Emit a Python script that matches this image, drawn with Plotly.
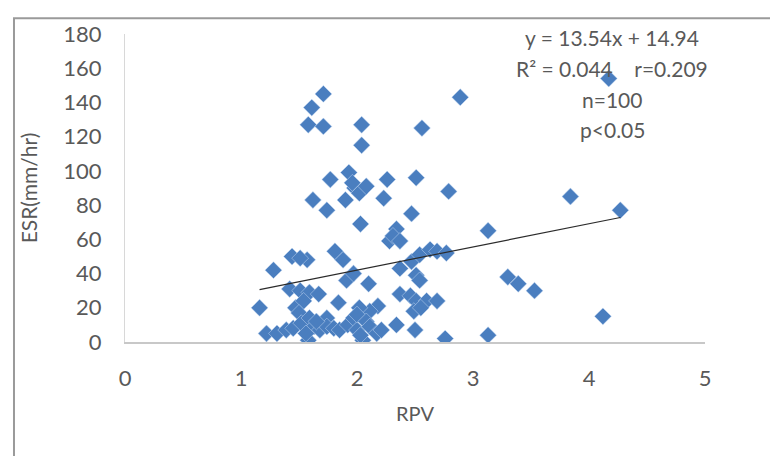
import plotly.graph_objects as go

# RPV (x) and ESR (y) values
rpv = [1.71, 1.61, 1.58, 1.71, 2.04, 2.04, 2.89, 2.56, 4.17, 3.84, 4.27,
       1.77, 1.93, 1.98, 2.02, 2.08, 1.90, 1.62, 1.74, 2.26, 2.51, 2.23, 2.79, 1.96,
       2.03, 2.47, 2.34, 3.13, 2.28, 2.31, 2.37,
       1.28, 1.44, 1.57, 1.51, 1.81, 1.88, 1.91, 1.97, 2.10, 2.37, 2.47, 2.54, 2.63,
       2.69, 2.77, 2.51, 2.54, 3.30, 3.39, 3.53,
       1.16, 1.42, 1.51, 1.59, 1.67, 1.47, 1.54, 1.84, 2.18, 2.37, 2.46, 2.51, 2.60,
       2.69, 2.49, 2.55, 4.12, 2.11, 2.02, 1.50,
       1.22, 1.31, 1.39, 1.45, 1.52, 1.59, 1.58, 1.63, 1.68, 1.74, 1.74, 1.80, 1.85,
       1.92, 1.97, 2.00, 2.00, 2.05, 2.08, 2.11, 2.17, 2.21, 2.34, 2.50, 2.76, 3.13,
       1.56, 2.03, 1.65]
esr = [145, 137, 127, 126, 127, 115, 143, 125, 154, 85, 77,
       95, 99, 90, 87, 91, 83, 83, 77, 95, 96, 84, 88, 93,
       69, 75, 66, 65, 59, 62, 59,
       42, 50, 48, 49, 53, 48, 36, 40, 34, 43, 47, 51, 54,
       53, 52, 39, 36, 38, 34, 30,
       20, 31, 30, 29, 28, 20, 24, 23, 21, 28, 27, 24, 24,
       24, 18, 20, 15, 18, 20, 17,
       5, 5, 7, 8, 11, 14, 1, 9, 7, 14, 9, 8, 7,
       10, 14, 7, 16, 1, 12, 9, 5, 7, 10, 7, 2, 4,
       5, 4, 12]

slope = 13.54
intercept = 14.94
x_ticks = [0, 1, 2, 3, 4, 5]
y_ticks = [0, 20, 40, 60, 80, 100, 120, 140, 160, 180]
stats_lines = ["y = 13.54x + 14.94",
               "R\u00b2 = 0.044\u00a0\u00a0\u00a0\u00a0r=0.209",
               "n=100",
               "p<0.05"]

FONT = "Lato, 'Open Sans', sans-serif"
TXT = "#595959"

fig = go.Figure()
fig.add_trace(go.Scatter(
    x=rpv, y=esr, mode="markers",
    marker=dict(symbol="diamond", size=13, color="#4A7EBF",
                line=dict(width=0.6, color="rgba(200,220,245,0.8)")),
    showlegend=False, hoverinfo="x+y"))

xmin, xmax = min(rpv), max(rpv)
fig.add_trace(go.Scatter(
    x=[xmin, xmax], y=[slope * xmin + intercept, slope * xmax + intercept],
    mode="lines", line=dict(color="#2b2b2b", width=1.2),
    showlegend=False, hoverinfo="skip"))

ann_y = [178, 160, 142, 124]
for txt, yy in zip(stats_lines, ann_y):
    fig.add_annotation(x=4.2, y=yy, xref="x", yref="y", text=txt,
                       showarrow=False, xanchor="center", yanchor="middle",
                       font=dict(family=FONT, size=21, color=TXT))

# outer chart border
fig.add_shape(type="rect", xref="paper", yref="paper",
              x0=-0.1914, x1=1.2, y0=-0.5, y1=1.051,
              line=dict(color="#9a9a9a", width=2), fillcolor="rgba(0,0,0,0)",
              layer="below")

# page body has an 8px default margin, so the figure is 8px smaller
fig.update_layout(
    width=770, height=448,
    margin=dict(l=117, r=73, t=20, b=114),
    paper_bgcolor="white", plot_bgcolor="white",
    font=dict(family=FONT, color=TXT),
    xaxis=dict(range=[0, 5], tickvals=x_ticks, showgrid=False, zeroline=False,
               showline=True, linecolor="#c8c8c8", linewidth=2,
               ticks="", ticklabelstandoff=16,
               tickfont=dict(size=22, color=TXT, family=FONT),
               title=dict(text="RPV", font=dict(size=20, color=TXT, family=FONT),
                          standoff=17)),
    yaxis=dict(range=[0, 180], tickvals=y_ticks, showgrid=False, zeroline=False,
               showline=True, linecolor="#d8d8d8", linewidth=1,
               ticks="", ticklabelstandoff=18,
               tickfont=dict(size=22, color=TXT, family=FONT),
               title=dict(text="ESR(mm/hr)", font=dict(size=21, color=TXT, family=FONT),
                          standoff=19)),
)

fig.write_html("out.html")
